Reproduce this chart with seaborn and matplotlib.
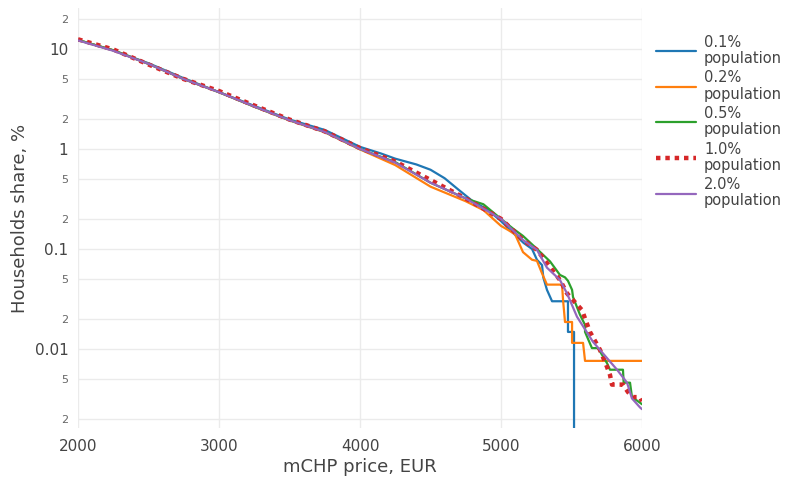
import matplotlib
matplotlib.use("Agg")
import matplotlib.pyplot as plt
import seaborn as sns
import pandas as pd
from matplotlib.lines import Line2D
from matplotlib.ticker import FixedLocator, FixedFormatter, NullLocator

early_x = [2000, 2250, 2500, 2750, 3000, 3250, 3500, 3750, 4000]

blue_x = early_x + [4150, 4250, 4400, 4500, 4600, 4700, 4800, 4900, 5000,
                    5085, 5160, 5220, 5255, 5291, 5300, 5326, 5362,
                    5475, 5475, 5518, 5518]
blue_y = [12.3, 9.7, 7.2, 5.1, 3.7, 2.7, 1.97, 1.55, 1.05,
          0.9, 0.8, 0.7, 0.62, 0.51, 0.39, 0.3, 0.25, 0.19,
          0.145, 0.115, 0.1, 0.078, 0.069, 0.052, 0.039, 0.030,
          0.030, 0.0148, 0.0148, 0.001]

orange_x = early_x + [4250, 4500, 4750, 4875, 5000, 5050, 5100, 5156, 5220, 5255,
                      5291, 5326, 5433, 5440, 5454, 5504, 5504, 5582, 5596, 6000]
orange_y = [12.3, 9.7, 7.1, 5.0, 3.7, 2.65, 1.93, 1.47, 0.99,
            0.69, 0.42, 0.30, 0.245, 0.17, 0.155, 0.14, 0.093, 0.078, 0.076,
            0.057, 0.044, 0.044, 0.031, 0.0186, 0.0186, 0.0115, 0.0115, 0.0076, 0.0076]

green_x = early_x + [4250, 4500, 4750, 4875, 5000, 5085, 5156, 5255, 5348, 5418,
                     5454, 5475, 5504, 5511, 5560, 5596, 5596, 5645, 5688, 5752,
                     5773, 5865, 5870, 5915, 5929, 5986, 6000]
green_y = [12.3, 9.7, 7.1, 5.0, 3.7, 2.65, 1.94, 1.48, 1.0,
           0.74, 0.46, 0.32, 0.28, 0.20, 0.16, 0.135, 0.1, 0.075, 0.055,
           0.052, 0.048, 0.039, 0.033, 0.022, 0.0174, 0.0148, 0.0102, 0.0102, 0.0072,
           0.0062, 0.0062, 0.0046, 0.0046, 0.0033, 0.0029, 0.0028]

red_x = early_x + [4250, 4500, 4750, 5000, 5156, 5255, 5348, 5418, 5468, 5574,
                   5631, 5702, 5752, 5773, 5787, 5865, 5901, 5936, 5986, 6000]
red_y = [12.5, 9.9, 7.0, 5.0, 3.8, 2.72, 1.97, 1.5, 1.02,
         0.75, 0.49, 0.32, 0.20, 0.123, 0.098, 0.066, 0.049, 0.036, 0.0245,
         0.0148, 0.0098, 0.0066, 0.0055, 0.0044, 0.0044, 0.0037, 0.0033, 0.0033, 0.0030]

purple_x = early_x + [4250, 4500, 4750, 5000, 5156, 5255, 5326, 5418, 5468, 5539,
                      5652, 5752, 5823, 5894, 5929, 5986, 6000]
purple_y = [12.2, 9.6, 7.1, 5.0, 3.7, 2.66, 1.94, 1.48, 1.0,
            0.73, 0.46, 0.32, 0.20, 0.123, 0.098, 0.065, 0.049, 0.036, 0.021,
            0.0118, 0.0081, 0.0062, 0.0046, 0.0032, 0.0026, 0.0025]

labels = ["0.1%\npopulation", "0.2%\npopulation", "0.5%\npopulation",
          "1.0%\npopulation", "2.0%\npopulation"]
colors = ["#1f77b4", "#ff7f0e", "#2ca02c", "#d62728", "#9467bd"]

ytick_vals = [0.002, 0.005, 0.01, 0.02, 0.05, 0.1, 0.2, 0.5, 1, 2, 5, 10, 20]
ytick_labels = ["2", "5", "0.01", "2", "5", "0.1", "2", "5", "1", "2", "5", "10", "2"]
xtick_vals = [2000, 3000, 4000, 5000, 6000]

sns.set_theme(style="white")
plt.rcParams['font.family'] = ['DejaVu Sans']

fig = plt.figure(figsize=(7.95, 4.8), dpi=100)
ax = fig.add_axes([78/795, 52/480, 564/795, 420/480])

series = [(blue_x, blue_y), (orange_x, orange_y), (green_x, green_y),
          (red_x, red_y), (purple_x, purple_y)]
handles = []
for i, ((xs, ys), lab, col) in enumerate(zip(series, labels, colors)):
    df = pd.DataFrame({"x": xs, "y": ys})
    if i == 3:
        sns.lineplot(data=df, x="x", y="y", ax=ax, estimator=None, sort=False,
                     color=col, lw=3.2, linestyle=(0, (1, 1.1)),
                     dash_capstyle="butt", zorder=4)
        handles.append(Line2D([], [], color=col, lw=3.2, linestyle=(0, (1, 1.1)),
                              dash_capstyle="butt"))
    else:
        sns.lineplot(data=df, x="x", y="y", ax=ax, estimator=None, sort=False,
                     color=col, lw=1.6, zorder=3 if i != 4 else 5)
        handles.append(Line2D([], [], color=col, lw=1.6))

ax.set_yscale("log")
ax.set_xlim(2000, 6000)
ax.set_ylim(0.00162, 25.7)

ax.yaxis.set_major_locator(FixedLocator(ytick_vals))
ax.yaxis.set_major_formatter(FixedFormatter(ytick_labels))
ax.yaxis.set_minor_locator(NullLocator())
ax.set_xticks(xtick_vals)
ax.set_xticklabels([str(v) for v in xtick_vals])

for t, lab in zip(ax.get_yticklabels(), ytick_labels):
    if lab in ("2", "5"):
        t.set_fontsize(8)
        t.set_color("#666666")
    else:
        t.set_fontsize(11)
        t.set_color("#444444")
for t in ax.get_xticklabels():
    t.set_fontsize(11)
    t.set_color("#444444")

ax.tick_params(axis="both", length=0)
ax.tick_params(axis="y", pad=7)
ax.tick_params(axis="x", pad=8)

ax.grid(True, which="major", color="#ebebeb", lw=1)
for s in ax.spines.values():
    s.set_visible(False)

ax.set_xlabel("mCHP price, EUR", fontsize=13, color="#444444", labelpad=3)
ax.set_ylabel("Households share, %", fontsize=13, color="#444444", labelpad=4)

leg = fig.legend(handles, labels, loc="upper left", bbox_to_anchor=(650/795, 1 - 29/480),
                 frameon=False, fontsize=10.5, handlelength=2.75, handletextpad=0.55,
                 labelspacing=0.3, borderaxespad=0)
for t in leg.get_texts():
    t.set_color("#444444")
    t.set_linespacing(1.1)

fig.savefig("out.png", dpi=100, facecolor="white")
